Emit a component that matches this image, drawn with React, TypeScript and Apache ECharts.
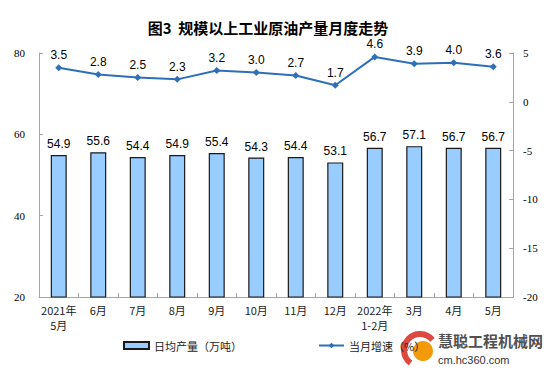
import React, { useEffect, useRef } from "react";
import * as echarts from "echarts";

const categories = ["2021年\n5月", "6月", "7月", "8月", "9月", "10月", "11月", "12月", "2022年\n1-2月", "3月", "4月", "5月"];
const dailyOutput = [54.9, 55.6, 54.4, 54.9, 55.4, 54.3, 54.4, 53.1, 56.7, 57.1, 56.7, 56.7];
const monthlyGrowth = [3.5, 2.8, 2.5, 2.3, 3.2, 3.0, 2.7, 1.7, 4.6, 3.9, 4.0, 3.6];
const leftTicks = [20, 80, 20];
const rightTicks = [-20, 5, 5];

export default function App() {
  const ref = useRef<HTMLDivElement>(null);
  useEffect(() => {
    document.body.style.margin = "0";
    if (!ref.current) return;
    const chart = echarts.init(ref.current, null, { renderer: "svg" });
    const serif = "Liberation Serif";
    const sans = "Liberation Sans, Noto Sans CJK SC";
    const cjk = "Noto Sans CJK SC";
    const fmt = (p: any) => Number(p.value).toFixed(1);
    chart.setOption({
      animation: false,
      backgroundColor: "#ffffff",
      grid: { left: 39, right: 41, top: 53, bottom: 77 },
      legend: {
        left: 118,
        top: 335,
        itemWidth: 25,
        itemHeight: 7,
        itemGap: 76,
        textStyle: { fontFamily: cjk, fontSize: 11, color: "#222" },
        data: [
          { name: "日均产量（万吨）", icon: "rect" },
          { name: "当月增速（%）" },
        ],
      },
      xAxis: {
        type: "category",
        data: categories,
        axisLine: { onZero: false, lineStyle: { color: "#a6a6a6", width: 1 } },
        axisTick: { show: true, inside: true, length: 4, lineStyle: { color: "#a6a6a6" } },
        axisLabel: { fontFamily: cjk, fontSize: 11, color: "#222", margin: 5, lineHeight: 15, interval: 0 },
      },
      yAxis: [
        {
          type: "value",
          min: leftTicks[0],
          max: leftTicks[1],
          interval: leftTicks[2],
          position: "left",
          axisLine: { show: true, lineStyle: { color: "#a6a6a6" } },
          axisTick: { show: true, inside: true, length: 4, lineStyle: { color: "#a6a6a6" } },
          splitLine: { show: false },
          axisLabel: { fontFamily: serif, fontSize: 11, color: "#000", margin: 14 },
        },
        {
          type: "value",
          min: rightTicks[0],
          max: rightTicks[1],
          interval: rightTicks[2],
          position: "right",
          axisLine: { show: true, lineStyle: { color: "#a6a6a6" } },
          axisTick: { show: true, inside: true, length: 4, lineStyle: { color: "#a6a6a6" } },
          splitLine: { show: false },
          axisLabel: { fontFamily: serif, fontSize: 11, color: "#000", margin: 10 },
        },
      ],
      series: [
        {
          name: "日均产量（万吨）",
          type: "bar",
          data: dailyOutput,
          yAxisIndex: 0,
          barWidth: 16,
          itemStyle: { color: "#99ccff", borderColor: "#1a1a1a", borderWidth: 1.2 },
          label: { show: true, position: "top", distance: 5, fontFamily: sans, fontSize: 12, color: "#000", formatter: fmt },
        },
        {
          name: "当月增速（%）",
          type: "line",
          data: monthlyGrowth,
          yAxisIndex: 1,
          symbol: "diamond",
          symbolSize: 7,
          lineStyle: { color: "#2e6fba", width: 2 },
          itemStyle: { color: "#2e6fba" },
          label: { show: true, position: "top", distance: 3, fontFamily: sans, fontSize: 12, color: "#000", formatter: fmt },
        },
      ],
      graphic: [
        {
          type: "text",
          x: 268,
          y: 27,
          style: {
            text: "图3  规模以上工业原油产量月度走势",
            fontFamily: cjk,
            fontSize: 15,
            fontWeight: "bold",
            fill: "#000",
            textAlign: "center",
            textVerticalAlign: "middle",
          },
        },
        {
          type: "group",
          x: 398,
          y: 328,
          children: [
            { type: "arc", shape: { cx: 22, cy: 22, r: 16, startAngle: 2.2, endAngle: 5.6 }, style: { stroke: "#d9342b", lineWidth: 6, fill: "none", opacity: 0.9 } },
            { type: "circle", shape: { cx: 25, cy: 23, r: 10 }, style: { fill: "#f39a0b" } },
            { type: "text", x: 40, y: 5, style: { text: "慧聪工程机械网", fontFamily: cjk, fontSize: 15, fontWeight: "bold", fill: "#505050" } },
            { type: "text", x: 40, y: 26, style: { text: "cm.hc360.com", fontFamily: "Liberation Sans", fontSize: 11, fill: "#333" } },
          ],
        },
      ],
    });
    return () => chart.dispose();
  }, []);
  return <div ref={ref} style={{ width: 554, height: 374 }} />;
}
